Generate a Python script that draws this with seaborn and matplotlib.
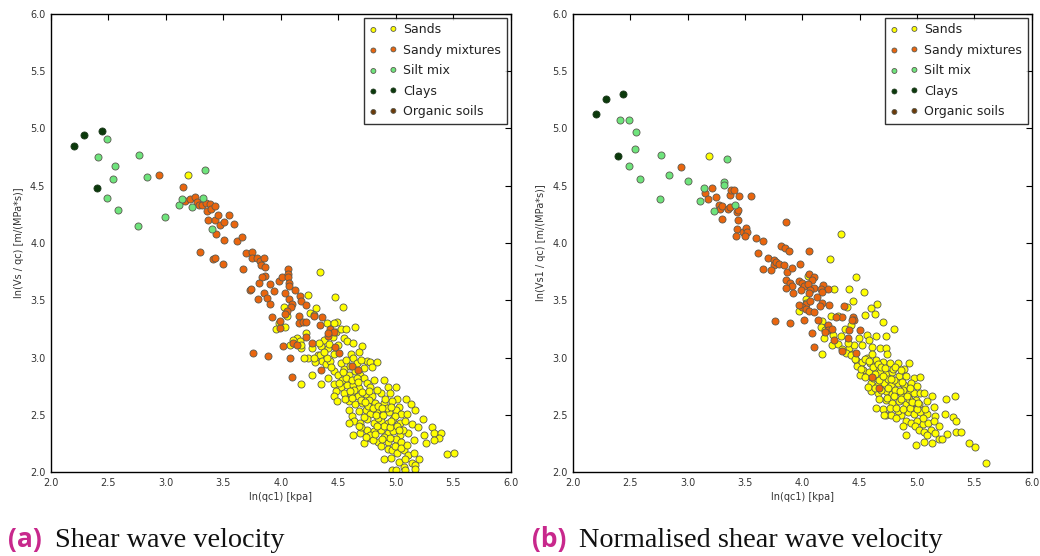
import matplotlib
matplotlib.use("Agg")
import matplotlib.pyplot as plt
import seaborn as sns
import pandas as pd

# ---------------- data: panel (a) ----------------
a_sands_x = [3.19, 4.34, 4.47, 4.54, 4.24, 4.31, 4.25, 4.29, 4.65, 4.49, 4.40, 4.46, 4.03, 4.05, 3.98, 3.96,
             4.04, 4.14, 4.17, 4.22, 4.18, 4.27, 4.32, 4.24, 4.34, 4.36, 4.30, 4.39, 4.43, 4.46, 4.41, 4.50,
             4.55, 4.58, 4.63, 4.71, 4.68, 4.61, 4.63, 4.75, 4.78, 4.84, 4.72, 4.79, 4.27, 4.35, 4.18, 4.41,
             4.46, 4.50, 4.55, 4.59, 4.65, 4.69, 4.72, 4.81, 4.90, 4.93, 5.00, 4.46, 4.52, 4.58, 4.63, 4.68,
             4.48, 4.55, 4.61, 4.67, 4.74, 4.79, 4.87, 4.95, 5.01, 4.46, 4.49, 4.59, 4.65, 4.71, 4.77, 4.82,
             4.90, 4.97, 5.03, 5.09, 5.13, 4.59, 4.62, 4.68, 4.74, 4.78, 4.84, 4.88, 4.94, 5.00, 5.05, 5.10,
             5.17, 4.64, 4.69, 4.75, 4.81, 4.87, 4.93, 4.98, 5.04, 5.08, 5.14, 5.24, 4.59, 4.69, 4.75, 4.81,
             4.87, 4.93, 4.98, 5.04, 5.11, 5.19, 5.25, 4.72, 4.78, 4.85, 4.93, 5.00, 5.05, 5.16, 5.26, 5.32,
             5.33, 5.39, 5.38, 5.33, 5.45, 5.51, 4.87, 4.93, 4.97, 5.01, 5.07, 5.11, 5.16, 4.90, 4.96, 5.03,
             5.08, 5.14, 5.20, 4.97, 5.00, 5.07, 5.08, 5.17, 5.17, 4.78, 4.90, 4.63, 4.11, 4.18, 4.08, 4.29,
             4.40, 4.44, 4.52, 4.57, 4.60, 4.66, 4.70, 4.53, 4.57, 4.62, 4.66, 4.75, 4.78, 4.84, 4.71, 4.64,
             4.56, 4.62, 4.70, 4.76, 4.80, 4.85, 4.92, 4.96, 4.72, 4.85, 4.90, 4.95, 5.01, 5.06, 4.84, 4.70,
             4.80, 4.88, 4.95, 4.99, 5.05, 5.10, 4.35, 4.38, 4.42, 4.45, 4.48, 4.52, 4.57, 4.38, 4.33, 4.20,
             4.51, 4.54, 4.60, 4.67, 4.73, 4.77, 4.83, 4.88, 4.91, 4.99, 5.03, 4.68, 4.74, 4.82, 4.89, 4.96]
a_sands_y = [4.59, 3.75, 3.53, 3.44, 3.55, 3.43, 3.39, 3.37, 3.27, 3.31, 3.30, 3.30, 3.44, 3.36, 3.30, 3.25,
             3.27, 3.17, 3.14, 3.21, 3.08, 3.08, 3.02, 3.00, 3.02, 2.97, 2.96, 2.94, 2.97, 3.03, 3.08, 3.11,
             3.17, 3.14, 3.13, 3.10, 3.05, 3.03, 3.00, 2.97, 2.96, 2.96, 2.91, 2.92, 2.85, 2.77, 2.77, 2.82,
             2.88, 2.85, 2.90, 2.85, 2.88, 2.85, 2.82, 2.80, 2.80, 2.74, 2.74, 2.77, 2.74, 2.76, 2.76, 2.73,
             2.71, 2.69, 2.68, 2.66, 2.68, 2.66, 2.69, 2.69, 2.64, 2.66, 2.62, 2.62, 2.59, 2.60, 2.63, 2.60,
             2.60, 2.62, 2.57, 2.64, 2.59, 2.54, 2.49, 2.53, 2.54, 2.51, 2.54, 2.49, 2.52, 2.54, 2.51, 2.51,
             2.54, 2.45, 2.43, 2.46, 2.43, 2.45, 2.43, 2.46, 2.43, 2.45, 2.42, 2.46, 2.43, 2.34, 2.37, 2.36,
             2.37, 2.34, 2.36, 2.32, 2.34, 2.39, 2.32, 2.25, 2.30, 2.26, 2.26, 2.29, 2.26, 2.28, 2.25, 2.39,
             2.34, 2.34, 2.30, 2.28, 2.16, 2.17, 2.23, 2.20, 2.19, 2.17, 2.19, 2.15, 2.17, 2.11, 2.12, 2.09,
             2.11, 2.08, 2.11, 2.02, 2.02, 2.04, 2.02, 2.06, 2.03, 2.32, 2.31, 2.32, 3.15, 3.11, 3.11, 3.00,
             3.00, 2.92, 2.95, 2.98, 2.93, 2.95, 2.98, 2.80, 2.82, 2.80, 2.82, 2.78, 2.74, 2.72, 2.70, 2.72,
             2.64, 2.65, 2.63, 2.58, 2.56, 2.58, 2.56, 2.57, 2.48, 2.47, 2.40, 2.39, 2.40, 2.37, 2.40, 2.39,
             2.28, 2.29, 2.30, 2.23, 2.21, 2.24, 3.10, 3.15, 3.12, 3.18, 3.22, 3.25, 3.25, 3.05, 3.13, 3.00,
             2.78, 2.87, 2.71, 2.79, 2.61, 2.71, 2.50, 2.56, 2.64, 2.49, 2.37, 2.40, 2.31, 2.33, 2.50, 2.45]

a_mix_x = [2.94, 3.15, 3.17, 3.21, 3.25, 3.27, 3.29, 3.31, 3.35, 3.38, 3.36, 3.39, 3.43, 3.37, 3.43, 3.45,
           3.47, 3.51, 3.55, 3.59, 3.44, 3.51, 3.62, 3.66, 3.30, 3.41, 3.43, 3.50, 3.67, 3.70, 3.75, 3.75,
           3.79, 3.82, 3.85, 3.83, 3.86, 3.86, 3.84, 3.81, 3.73, 3.74, 3.85, 3.88, 3.80, 3.91, 3.91, 3.94,
           3.98, 4.01, 4.06, 4.06, 4.06, 4.07, 4.07, 4.04, 4.07, 4.12, 4.17, 4.18, 4.22, 4.10, 4.09, 4.05,
           4.04, 3.92, 3.99, 3.99, 4.16, 4.16, 4.19, 4.22, 4.22, 4.11, 4.14, 4.27, 4.29, 4.36, 4.34, 4.43,
           4.46, 4.41, 4.41, 4.47, 4.51, 4.62, 4.67, 4.35, 3.76, 3.89, 4.02, 4.08, 4.10]
a_mix_y = [4.59, 4.49, 4.37, 4.38, 4.40, 4.36, 4.33, 4.33, 4.35, 4.34, 4.28, 4.30, 4.32, 4.20, 4.20, 4.24,
           4.16, 4.18, 4.24, 4.17, 4.08, 4.03, 4.02, 4.05, 3.92, 3.86, 3.87, 3.82, 3.77, 3.91, 3.92, 3.87,
           3.87, 3.84, 3.87, 3.81, 3.79, 3.71, 3.70, 3.65, 3.59, 3.60, 3.56, 3.52, 3.51, 3.47, 3.64, 3.58,
           3.67, 3.70, 3.77, 3.73, 3.70, 3.65, 3.62, 3.56, 3.51, 3.59, 3.54, 3.49, 3.46, 3.47, 3.44, 3.41,
           3.38, 3.35, 3.26, 3.32, 3.36, 3.30, 3.31, 3.31, 3.18, 3.13, 3.11, 3.13, 3.36, 3.35, 3.28, 3.25,
           3.22, 3.19, 3.21, 3.09, 3.04, 2.93, 2.89, 2.89, 3.04, 3.01, 3.10, 3.00, 2.83]

a_silt_x = [2.49, 2.41, 2.56, 2.54, 2.49, 2.58, 2.77, 2.84, 2.76, 2.99, 3.11, 3.14, 3.23, 3.32, 3.34, 3.40]
a_silt_y = [4.91, 4.75, 4.67, 4.56, 4.39, 4.29, 4.77, 4.58, 4.15, 4.23, 4.33, 4.38, 4.31, 4.39, 4.64, 4.12]

a_clay_x = [2.20, 2.29, 2.44, 2.40]
a_clay_y = [4.85, 4.94, 4.98, 4.48]

# ---------------- data: panel (b) ----------------
b_sands_x = [3.19, 4.34, 4.24, 4.47, 4.28, 4.41, 4.54, 4.44, 4.65, 4.05, 4.03, 3.97, 4.03, 4.39, 4.60, 4.63,
             4.55, 4.70, 4.80, 4.73, 4.25, 4.31, 4.17, 4.16, 4.20, 4.27, 4.19, 4.17, 4.26, 4.31, 4.34, 4.37,
             4.42, 4.41, 4.45, 4.49, 4.56, 4.58, 4.64, 4.52, 4.61, 4.68, 4.73, 4.74, 4.44, 4.47, 4.50, 4.56,
             4.61, 4.64, 4.70, 4.76, 4.83, 4.93, 4.89, 4.53, 4.58, 4.64, 4.68, 4.73, 4.78, 4.84, 4.90, 4.97,
             5.03, 4.60, 4.66, 4.71, 4.77, 4.83, 4.89, 4.95, 5.00, 4.60, 4.66, 4.73, 4.78, 4.86, 4.92, 4.97,
             5.03, 5.06, 5.13, 4.73, 4.78, 4.84, 4.90, 4.96, 5.02, 5.09, 5.15, 5.25, 5.33, 4.70, 4.73, 4.77,
             4.86, 4.83, 4.92, 4.97, 5.03, 5.09, 5.16, 5.24, 5.31, 5.34, 4.90, 4.95, 5.00, 5.05, 5.10, 5.15,
             4.98, 5.02, 5.06, 5.12, 5.16, 5.19, 5.26, 5.34, 5.38, 4.90, 4.99, 5.06, 5.13, 5.19, 5.22, 5.45,
             5.51, 5.60, 4.64, 4.71, 5.09,
             4.48, 4.52, 4.55, 4.59, 4.62, 4.66, 4.69, 4.72, 4.79, 4.81, 4.86, 4.50, 4.55, 4.62, 4.67, 4.75,
             4.80, 4.87, 4.57, 4.63, 4.69, 4.75, 4.81, 4.88, 4.94, 4.67, 4.74, 4.80, 4.86, 4.93, 4.99, 4.76,
             4.82, 4.88, 4.94, 5.00, 5.07, 4.38, 4.42, 4.46, 4.35, 4.40,
             4.51, 4.58, 4.63, 4.70, 4.77, 4.85, 4.91, 4.96, 5.01, 5.05, 4.82, 4.88]
b_sands_y = [4.76, 4.08, 3.86, 3.70, 3.60, 3.60, 3.57, 3.49, 3.47, 3.71, 3.51, 3.41, 3.48, 3.44, 3.43, 3.38,
             3.37, 3.31, 3.25, 3.19, 3.36, 3.36, 3.32, 3.27, 3.24, 3.20, 3.17, 3.03, 3.11, 3.12, 3.19, 3.25,
             3.28, 3.08, 3.11, 3.17, 3.20, 3.15, 3.19, 3.11, 3.09, 3.08, 3.08, 3.03, 3.03, 2.98, 2.93, 3.00,
             3.03, 2.98, 2.96, 2.95, 2.95, 2.95, 2.90, 2.89, 2.87, 2.90, 2.87, 2.86, 2.87, 2.84, 2.84, 2.82,
             2.83, 2.78, 2.76, 2.78, 2.76, 2.78, 2.76, 2.78, 2.75, 2.71, 2.69, 2.71, 2.68, 2.69, 2.68, 2.69,
             2.69, 2.69, 2.66, 2.63, 2.60, 2.62, 2.59, 2.60, 2.59, 2.62, 2.57, 2.64, 2.66, 2.55, 2.50, 2.50,
             2.50, 2.53, 2.52, 2.51, 2.52, 2.51, 2.49, 2.51, 2.48, 2.45, 2.45, 2.43, 2.45, 2.42, 2.43, 2.45,
             2.40, 2.37, 2.35, 2.37, 2.34, 2.40, 2.33, 2.35, 2.35, 2.32, 2.24, 2.26, 2.25, 2.29, 2.29, 2.25,
             2.22, 2.08, 2.56, 2.50, 2.32,
             2.93, 2.96, 2.99, 2.95, 2.92, 2.94, 2.92, 2.91, 2.90, 2.92, 2.89, 2.85, 2.83, 2.82, 2.80, 2.81,
             2.80, 2.79, 2.74, 2.73, 2.72, 2.73, 2.72, 2.72, 2.73, 2.64, 2.65, 2.66, 2.64, 2.64, 2.63, 2.56,
             2.56, 2.55, 2.56, 2.55, 2.55, 3.04, 3.02, 2.99, 3.07, 3.13,
             2.90, 2.97, 2.86, 2.84, 2.81, 2.71, 2.66, 2.61, 2.60, 2.47, 2.47, 2.40]

b_mix_x = [2.94, 3.15, 3.18, 3.21, 3.25, 3.27, 3.28, 3.30, 3.30, 3.37, 3.38, 3.40, 3.35, 3.37, 3.45, 3.55,
           3.43, 3.44, 3.44, 3.43, 3.48, 3.51, 3.52, 3.42, 3.50, 3.60, 3.66, 3.61, 3.70, 3.75, 3.75, 3.66,
           3.73, 3.77, 3.80, 3.81, 3.85, 3.88, 3.86, 3.84, 3.87, 3.91, 3.98, 3.86, 3.89, 3.91, 3.86, 3.97,
           4.00, 4.01, 3.99, 3.92, 4.06, 4.06, 4.10, 4.08, 4.05, 4.10, 4.07, 4.06, 4.13, 4.18, 4.16, 4.22,
           4.17, 4.03, 4.07, 4.00, 3.97, 4.03, 4.06, 4.10, 4.17, 4.15, 4.23, 3.76, 3.89, 4.01, 4.08, 4.10,
           4.14, 4.22, 4.22, 4.20, 4.28, 4.35, 4.36, 4.40, 4.41, 4.35, 4.44, 4.45, 4.43, 4.50, 4.47, 4.61,
           4.67, 4.29, 4.26]
b_mix_y = [4.66, 4.44, 4.38, 4.48, 4.40, 4.33, 4.30, 4.32, 4.21, 4.42, 4.46, 4.46, 4.30, 4.31, 4.41, 4.41,
           4.27, 4.29, 4.20, 4.12, 4.10, 4.13, 4.10, 4.06, 4.06, 4.04, 4.02, 3.91, 3.87, 3.85, 3.81, 3.77,
           3.76, 3.83, 3.82, 3.97, 3.96, 3.93, 4.18, 3.81, 3.75, 3.78, 3.82, 3.68, 3.65, 3.62, 3.61, 3.67,
           3.65, 3.62, 3.59, 3.56, 3.93, 3.73, 3.70, 3.68, 3.64, 3.61, 3.59, 3.56, 3.53, 3.63, 3.60, 3.60,
           3.57, 3.47, 3.49, 3.44, 3.46, 3.42, 3.41, 3.40, 3.48, 3.45, 3.46, 3.32, 3.30, 3.33, 3.21, 3.09,
           3.33, 3.28, 3.24, 3.22, 3.15, 3.35, 3.45, 3.17, 3.24, 3.06, 3.35, 3.33, 3.33, 3.24, 3.04, 2.83,
           2.73, 3.35, 3.25]

b_silt_x = [2.41, 2.49, 2.55, 2.54, 2.49, 2.58, 2.77, 2.84, 2.76, 3.00, 3.11, 3.14, 3.23, 3.32, 3.32, 3.34, 3.41]
b_silt_y = [5.07, 5.07, 4.97, 4.82, 4.67, 4.56, 4.77, 4.59, 4.38, 4.54, 4.37, 4.48, 4.28, 4.53, 4.51, 4.73, 4.33]

b_clay_x = [2.20, 2.29, 2.44, 2.39]
b_clay_y = [5.13, 5.26, 5.30, 4.76]

categories = ["Sands", "Sandy mixtures", "Silt mix", "Clays", "Organic soils"]
colors = {"Sands": "#ffff00", "Sandy mixtures": "#ea650d", "Silt mix": "#6ee47c",
          "Clays": "#0b3a0b", "Organic soils": "#6b3a08"}

panels = [
    {"Sands": (a_sands_x, a_sands_y), "Sandy mixtures": (a_mix_x, a_mix_y),
     "Silt mix": (a_silt_x, a_silt_y), "Clays": (a_clay_x, a_clay_y), "Organic soils": ([], [])},
    {"Sands": (b_sands_x, b_sands_y), "Sandy mixtures": (b_mix_x, b_mix_y),
     "Silt mix": (b_silt_x, b_silt_y), "Clays": (b_clay_x, b_clay_y), "Organic soils": ([], [])},
]
ylabels = ["ln(Vs / qc) [m/(MPa*s)]", "ln(Vs1 / qc) [m/(MPa*s)]"]
xlabel = "ln(qc1) [kpa]"
captions = [("(a)", "Shear wave velocity"), ("(b)", "Normalised shear wave velocity")]

sns.set_theme(style="white")
plt.rcParams.update({
    "font.family": ["DejaVu Sans"],
    "xtick.direction": "in", "ytick.direction": "in",
    "xtick.top": True, "ytick.right": True,
    "xtick.major.size": 4, "ytick.major.size": 4,
    "xtick.major.width": 0.8, "ytick.major.width": 0.8,
    "axes.edgecolor": "black", "axes.linewidth": 1.0,
})

fig = plt.figure(figsize=(10.4, 5.56), dpi=100)
positions = [[0.049, 0.151, 0.442, 0.824], [0.551, 0.151, 0.441, 0.824]]

for i, pdata in enumerate(panels):
    ax = fig.add_axes(positions[i])
    for cat in categories:
        xs, ys = pdata[cat]
        ec = "#1f3a1f" if cat == "Clays" else "#5a5a50"
        if len(xs):
            df = pd.DataFrame({"x": xs, "y": ys})
            sns.scatterplot(data=df, x="x", y="y", ax=ax, color=colors[cat], s=26,
                            edgecolor=ec, linewidth=0.6, label=cat, zorder=2)
        else:
            ax.scatter([], [], color=colors[cat], s=26, edgecolor=ec, linewidth=0.6, label=cat)
    ax.set_xlim(2.0, 6.0)
    ax.set_ylim(2.0, 6.0)
    ax.set_xticks([2.0, 2.5, 3.0, 3.5, 4.0, 4.5, 5.0, 5.5, 6.0])
    ax.set_yticks([2.0, 2.5, 3.0, 3.5, 4.0, 4.5, 5.0, 5.5, 6.0])
    ax.set_xticklabels([f"{v:.1f}" for v in ax.get_xticks()])
    ax.set_yticklabels([f"{v:.1f}" for v in ax.get_yticks()])
    ax.tick_params(labelsize=7, colors="black", labelcolor="#333333", pad=4)
    ax.set_xlabel(xlabel, fontsize=7, color="#333333", labelpad=3)
    ax.set_ylabel(ylabels[i], fontsize=7, color="#333333", labelpad=4)
    for sp in ax.spines.values():
        sp.set_visible(True)
        sp.set_color("black")
    leg = ax.legend(loc="upper right", scatterpoints=2, fontsize=9, frameon=True, fancybox=False,
                    borderaxespad=0.3, handlelength=2.2, handletextpad=0.5, labelspacing=0.6,
                    borderpad=0.45, markerscale=0.7)
    leg.get_frame().set_edgecolor("black")
    leg.get_frame().set_linewidth(1.0)
    for t in leg.get_texts():
        t.set_color("#222222")

cap_x = [(0.008, 0.053), (0.512, 0.557)]
base_y = (556 - 547) / 556
for i, (lab, txt) in enumerate(captions):
    fig.text(cap_x[i][0], base_y, lab, fontsize=19, fontweight="bold", color="#c8288c",
             family="Open Sans", va="baseline")
    fig.text(cap_x[i][1], base_y, txt, fontsize=20.3, color="#111111",
             family="Liberation Serif", va="baseline")

fig.savefig("out.png", dpi=100)
